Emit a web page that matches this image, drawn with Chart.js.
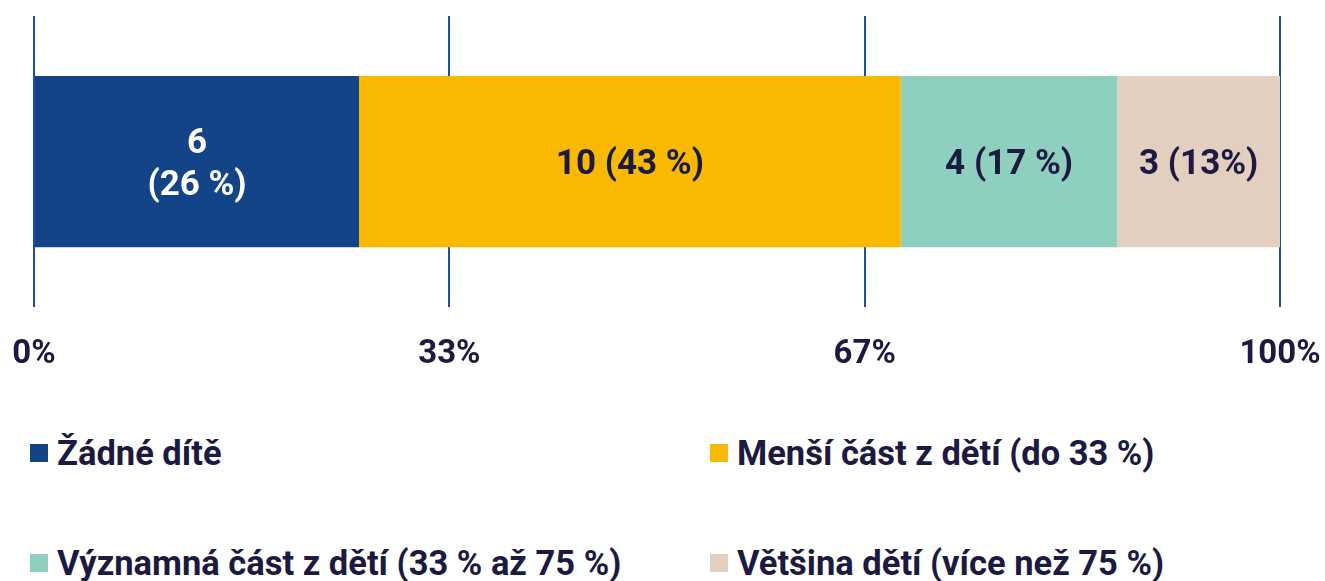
<!DOCTYPE html>
<html>
<head>
<meta charset="utf-8">
<script src="https://cdn.jsdelivr.net/npm/chart.js@4/dist/chart.umd.min.js"></script>
<style>
  body { margin: 0; background: #fff; font-family: Roboto, sans-serif; }
  #wrap { position: relative; width: 1325px; height: 581px; }
  #box { position: absolute; left: 0; top: 0; width: 1325px; height: 375px; }
  .leg { position: absolute; display: flex; align-items: center; font-weight: 700; font-size: 34.5px; color: #1c1a40; white-space: nowrap; height: 40px; }
  .leg i { display: inline-block; width: 18px; height: 18px; margin-right: 9px; }
</style>
</head>
<body>
<div id="wrap">
  <div id="box"><canvas id="chart"></canvas></div>
  <div id="legend"></div>
</div>
<script>
// data
const categories = ['Žádné dítě', 'Menší část z dětí (do 33 %)', 'Významná část z dětí (33 % až 75 %)', 'Většina dětí (více než 75 %)']
const counts = [6, 10, 4, 3]
const barLabels = [['6', '(26 %)'], ['10 (43 %)'], ['4 (17 %)'], ['3 (13%)']]
const tickLabels = ['0%', '33%', '67%', '100%']
const colors = ['#134488', '#f9b900', '#8fcfbf', '#e2cfc0']
const labelColors = ['#ffffff', '#1c1a40', '#1c1a40', '#1c1a40']

const total = counts.reduce((a, b) => a + b, 0)
const textColor = '#1c1a40'

// value labels inside the bars
const barText = {
  id: 'barText',
  afterDatasetsDraw(chart) {
    const ctx = chart.ctx
    ctx.save()
    ctx.font = 'bold 35px Roboto'
    ctx.textAlign = 'center'
    ctx.textBaseline = 'middle'
    chart.data.datasets.forEach((ds, i) => {
      const el = chart.getDatasetMeta(i).data[0]
      const lines = barLabels[i]
      const cx = (el.x + el.base) / 2
      const lh = 42
      ctx.fillStyle = labelColors[i]
      lines.forEach((t, j) => {
        ctx.fillText(t, cx, el.y + 4 + (j - (lines.length - 1) / 2) * lh)
      })
    })
    ctx.restore()
  }
}

new Chart(document.getElementById('chart'), {
  type: 'bar',
  data: {
    labels: [''],
    datasets: categories.map((c, i) => ({
      label: c,
      data: [counts[i]],
      backgroundColor: colors[i],
      borderWidth: 0,
      barPercentage: 0.588,
      categoryPercentage: 1,
    })),
  },
  options: {
    indexAxis: 'y',
    responsive: true,
    maintainAspectRatio: false,
    animation: false,
    layout: { padding: { top: 16, left: 34, right: 45, bottom: 0 } },
    plugins: { legend: { display: false }, tooltip: { enabled: false } },
    scales: {
      x: {
        stacked: true,
        min: 0,
        max: total,
        afterBuildTicks(axis) {
          axis.ticks = tickLabels.map((t, i) => ({ value: total * i / (tickLabels.length - 1) }))
        },
        // invisible tick marks give the gap under the grid lines
        grid: { color: '#1f4f9c', lineWidth: 2, drawTicks: true, tickLength: 28, tickColor: 'rgba(0,0,0,0)' },
        border: { display: false },
        ticks: {
          padding: 0,
          color: textColor,
          font: { family: 'Roboto', size: 33, weight: 'bold' },
          maxRotation: 0,
          callback: (v, i) => tickLabels[i],
        },
      },
      y: { stacked: true, display: false },
    },
  },
  plugins: [barText],
})

// legend, two columns
const legend = document.getElementById('legend')
const colX = [30, 710]
const rowY = [433, 543]
categories.forEach((c, i) => {
  const d = document.createElement('div')
  d.className = 'leg'
  d.style.left = colX[i % 2] + 'px'
  d.style.top = rowY[Math.floor(i / 2)] + 'px'
  d.innerHTML = '<i style="background:' + colors[i] + '"></i>' + c
  legend.appendChild(d)
})
</script>
</body>
</html>
